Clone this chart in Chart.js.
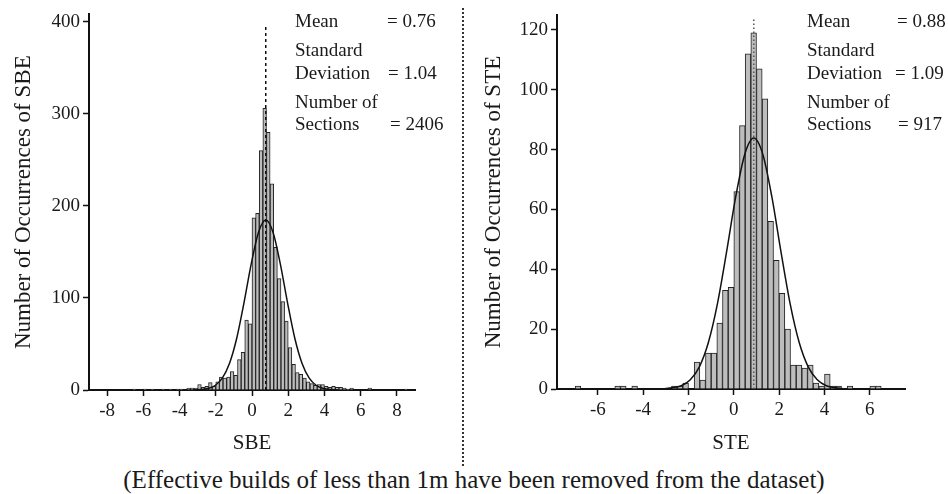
<!DOCTYPE html>
<html>
<head>
<meta charset="utf-8">
<script src="https://cdn.jsdelivr.net/npm/chart.js@4.4.1/dist/chart.umd.min.js"></script>
<style>
  html, body { margin: 0; padding: 0; background: #fff; overflow: hidden; }
  body { width: 948px; height: 494px; position: relative; font-family: 'Liberation Serif', serif; color: #1a1a1a; }
  .panel { position: absolute; top: 0; height: 460px; }
  .note { position: absolute; font-size: 19px; line-height: 1; white-space: nowrap; transform: translateY(-50%); }
  #divider { position: absolute; left: 462px; top: 8px; height: 458px; border-left: 2px dotted #333; }
  #footnote { position: absolute; left: 0; width: 948px; top: 467px; text-align: center; font-size: 25px; line-height: 1; white-space: nowrap; }
</style>
</head>
<body>
<div class="panel" style="left:0;width:430px"><canvas id="sbeChart"></canvas></div>
<div class="panel" style="left:464px;width:484px"><canvas id="steChart"></canvas></div>
<div id="divider"></div>

<div class="note" style="left:295px;top:20px">Mean</div>
<div class="note" style="left:387px;top:20px">= 0.76</div>
<div class="note" style="left:295px;top:49px">Standard</div>
<div class="note" style="left:295px;top:72px">Deviation</div>
<div class="note" style="left:388px;top:72px">= 1.04</div>
<div class="note" style="left:295px;top:101px">Number of</div>
<div class="note" style="left:295px;top:123px">Sections</div>
<div class="note" style="left:390px;top:123px">= 2406</div>

<div class="note" style="left:807px;top:20px">Mean</div>
<div class="note" style="left:897px;top:20px">= 0.88</div>
<div class="note" style="left:807px;top:49px">Standard</div>
<div class="note" style="left:807px;top:72px">Deviation</div>
<div class="note" style="left:895px;top:72px">= 1.09</div>
<div class="note" style="left:807px;top:101px">Number of</div>
<div class="note" style="left:807px;top:123px">Sections</div>
<div class="note" style="left:898px;top:123px">= 917</div>

<div id="footnote">(Effective builds of less than 1m have been removed from the dataset)</div>

<script>
// SBE histogram, bins of 0.2 (lower edge -> count), empty bins left out
const sbeBinWidth = 0.2;
const sbeEdges = [-6.6, -6.0, -5.6, -5.0, -4.6, -4.2, -4.0, -3.6, -3.4, -3.2, -3.0, -2.8, -2.6, -2.4, -2.2,
  -2.0, -1.8, -1.6, -1.4, -1.2, -1.0, -0.8, -0.6, -0.4, -0.2, 0.0, 0.2, 0.4, 0.6, 0.8, 1.0, 1.2,
  1.4, 1.6, 1.8, 2.0, 2.2, 2.4, 2.6, 2.8, 3.0, 3.2, 3.4, 3.6, 3.8, 4.0, 4.2, 4.4, 4.6, 4.8, 5.0,
  5.2, 5.4, 6.4, 8.4];
const sbeCounts = [1, 1, 1, 1, 1, 1, 1, 2, 2, 2, 6, 3, 4, 8, 4,
  9, 14, 13, 14, 20, 16, 33, 41, 76, 72, 187, 192, 260, 306, 280, 224, 155,
  121, 96, 75, 46, 28, 19, 17, 13, 9, 7, 5, 6, 6, 4, 3, 4, 3, 3, 2,
  1, 2, 2, 1];
// fitted normal curve
const sbeCurveX = [-3.24, -2.84, -2.44, -2.04, -1.64, -1.24, -0.84, -0.44, -0.04, 0.36, 0.76,
  1.16, 1.56, 1.96, 2.36, 2.76, 3.16, 3.56, 3.96, 4.36, 4.76];
const sbeCurveY = [0.1, 0.5, 1.6, 4.9, 12.9, 29.1, 56.5, 94.9, 137.3, 171.4, 184.6,
  171.4, 137.3, 94.9, 56.5, 29.1, 12.9, 4.9, 1.6, 0.5, 0.1];
const sbeMean = 0.76;
const sbeMeanTop = 395;
const sbeXTicks = [-8, -6, -4, -2, 0, 2, 4, 6, 8];
const sbeYTicks = [0, 100, 200, 300, 400];

// STE histogram, bins of 0.25
const steBinWidth = 0.25;
const steEdges = [-7.0, -5.25, -5.0, -4.5, -2.75, -2.5, -2.25, -1.75, -1.5, -1.25, -1.0, -0.75,
  -0.5, -0.25, 0.0, 0.25, 0.5, 0.75, 1.0, 1.25, 1.5, 1.75, 2.0, 2.25, 2.5, 2.75, 3.0, 3.25,
  3.5, 3.75, 4.0, 4.25, 4.5, 5.0, 6.0, 6.25];
const steCounts = [1, 1, 1, 1, 1, 1, 2, 9, 3, 12, 12, 22,
  33, 34, 66, 88, 112, 119, 107, 97, 56, 43, 32, 20, 8, 8, 7, 8,
  2, 1, 5, 1, 1, 1, 1, 1];
const steCurveX = [-3.12, -2.72, -2.32, -1.92, -1.52, -1.12, -0.72, -0.32, 0.08, 0.48, 0.88,
  1.28, 1.68, 2.08, 2.48, 2.88, 3.28, 3.68, 4.08, 4.48, 4.88];
const steCurveY = [0.1, 0.4, 1.1, 3.1, 7.4, 15.6, 28.6, 45.8, 64.1, 78.4, 83.9,
  78.4, 64.1, 45.8, 28.6, 15.6, 7.4, 3.1, 1.1, 0.4, 0.1];
const steMean = 0.88;
const steMeanTop = 124;
const steXTicks = [-6, -4, -2, 0, 2, 4, 6];
const steYTicks = [0, 20, 40, 60, 80, 100, 120];

Chart.defaults.font.family = "'Liberation Serif', serif";
Chart.defaults.color = '#1a1a1a';

function makeHistogram(canvasId, cfg) {
  const bars = cfg.edges.map((e, i) => ({ x: e + cfg.binWidth / 2, y: cfg.counts[i] }));
  const curve = cfg.curveX.map((x, i) => ({ x: x, y: cfg.curveY[i] }));
  const border = { display: true, color: '#111', width: 2 };
  const grid = { display: true, drawOnChartArea: false, drawTicks: true, offset: false, tickLength: 6, tickColor: '#111', tickWidth: 1.5 };

  return new Chart(document.getElementById(canvasId), {
    type: 'bar',
    data: {
      datasets: [
        {
          type: 'line',
          data: curve,
          borderColor: '#111',
          borderWidth: 1.5,
          pointRadius: 0,
          cubicInterpolationMode: 'monotone',
          order: 1
        },
        {
          type: 'line',
          data: [{ x: cfg.mean, y: 0 }, { x: cfg.mean, y: cfg.meanTop }],
          borderColor: cfg.meanColor,
          borderWidth: 1.5,
          borderDash: cfg.meanDash,
          pointRadius: 0,
          order: 2
        },
        {
          type: 'bar',
          data: bars,
          backgroundColor: '#bdbdbd',
          borderColor: '#222',
          borderWidth: { top: 1, left: 1, right: 1, bottom: 0 },
          borderSkipped: false,
          barPercentage: 1,
          categoryPercentage: 1,
          order: 3
        }
      ]
    },
    options: {
      responsive: true,
      maintainAspectRatio: false,
      animation: false,
      events: [],
      layout: { padding: cfg.padding },
      plugins: { legend: { display: false }, tooltip: { enabled: false } },
      scales: {
        x: {
          type: 'linear',
          offset: false,
          min: cfg.xMin,
          max: cfg.xMax,
          border: border,
          grid: grid,
          ticks: { font: { size: 19 }, color: '#1a1a1a', padding: 4, maxRotation: 0 },
          afterBuildTicks: axis => { axis.ticks = cfg.xTicks.map(v => ({ value: v })); },
          afterFit: axis => { axis.height = cfg.xAxisHeight; },
          title: { display: true, text: cfg.xTitle, font: { size: 21 }, padding: { top: 0, bottom: 4 } }
        },
        y: {
          min: 0,
          max: cfg.yMax,
          border: border,
          grid: grid,
          ticks: { font: { size: 19 }, color: '#1a1a1a', padding: 3 },
          afterBuildTicks: axis => { axis.ticks = cfg.yTicks.map(v => ({ value: v })); },
          afterFit: axis => { axis.width = cfg.yAxisWidth; },
          title: { display: true, text: cfg.yTitle, font: { size: 23 }, padding: { top: cfg.yTitlePad, bottom: 0 } }
        }
      }
    }
  });
}

makeHistogram('sbeChart', {
  edges: sbeEdges, counts: sbeCounts, binWidth: sbeBinWidth,
  curveX: sbeCurveX, curveY: sbeCurveY,
  mean: sbeMean, meanTop: sbeMeanTop, meanColor: '#111', meanDash: [3, 3],
  xMin: -9, xMax: 9, yMax: 408, xTicks: sbeXTicks, yTicks: sbeYTicks,
  xTitle: 'SBE', yTitle: 'Number of Occurrences of SBE',
  padding: { left: 0, right: 15, top: 12, bottom: 0 },
  xAxisHeight: 70, yAxisWidth: 89, yTitlePad: 10
});

makeHistogram('steChart', {
  edges: steEdges, counts: steCounts, binWidth: steBinWidth,
  curveX: steCurveX, curveY: steCurveY,
  mean: steMean, meanTop: steMeanTop, meanColor: '#555', meanDash: [1.5, 2.5],
  xMin: -7.8, xMax: 7.55, yMax: 125, xTicks: steXTicks, yTicks: steYTicks,
  xTitle: 'STE', yTitle: 'Number of Occurrences of STE',
  padding: { left: 0, right: 43, top: 15, bottom: 0 },
  xAxisHeight: 71, yAxisWidth: 93, yTitlePad: 16
});
</script>
</body>
</html>
